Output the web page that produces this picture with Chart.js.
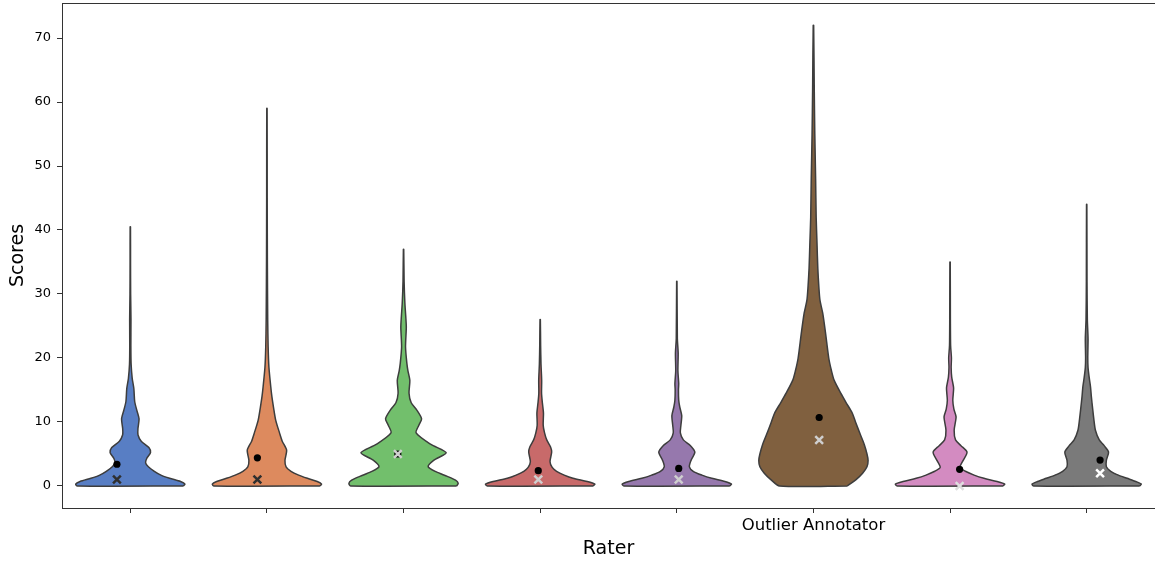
<!DOCTYPE html>
<html lang="en">
<head>
<meta charset="UTF-8">
<title>Scores by rater</title>
<script src="https://cdn.jsdelivr.net/npm/chart.js"></script>
<style>
  html, body { margin: 0; padding: 0; background: #fff; }
  #wrap { width: 1155px; height: 563px; }
</style>
</head>
<body>
<div id="wrap"><canvas id="chartViolin" width="1155" height="563"></canvas></div>
<script>
// rater names on the x axis (only one of them is labelled)
var raterLabels = ['', '', '', '', '', 'Outlier Annotator', '', ''];
var yTicks = [0, 10, 20, 30, 40, 50, 60, 70];

// violin outlines: [score, density relative to the widest point]
var dens0 = [[0,0.97],[0.3,1.0],[0.7,0.92],[1.2,0.72],[1.7,0.56],[2.3,0.44],[3,0.33],[3.6,0.28],[4.3,0.3],[5.2,0.37],[6,0.34],[7,0.2],[8,0.14],[9,0.14],[10.5,0.16],[11.8,0.12],[13.2,0.08],[15.2,0.065],[16.8,0.035],[19,0.015],[22,0.01],[26,0.012],[30,0.006],[35,0.004],[40.5,0.003]];
var dens1 = [[0,0.97],[0.3,1.0],[0.7,0.92],[1.2,0.74],[1.7,0.58],[2.3,0.44],[3,0.35],[4,0.33],[5.6,0.36],[7,0.28],[8.3,0.23],[10.3,0.16],[12.3,0.12],[14,0.09],[15.5,0.07],[18.6,0.036],[21.7,0.022],[26,0.014],[35,0.008],[45,0.005],[59,0.003]];
var dens2 = [[0,0.97],[0.4,1.0],[0.9,0.95],[1.5,0.8],[2.2,0.6],[3,0.45],[4,0.55],[5.2,0.78],[6.5,0.5],[8.3,0.23],[9.5,0.28],[10.5,0.33],[11.9,0.24],[13,0.14],[14.5,0.1],[16.5,0.115],[18,0.08],[19.2,0.06],[21.7,0.036],[24.8,0.05],[26.5,0.04],[28.6,0.024],[32,0.01],[37,0.003]];
var dens3 = [[0,0.97],[0.3,1.0],[0.7,0.86],[1.2,0.6],[1.7,0.44],[2.3,0.3],[2.9,0.22],[3.8,0.18],[5.3,0.21],[6.1,0.19],[7.2,0.12],[8.3,0.08],[9.5,0.055],[11.4,0.06],[13,0.04],[14.5,0.025],[16.5,0.027],[19,0.015],[22,0.008],[26,0.003]];
var dens4 = [[0,0.97],[0.3,1.0],[0.7,0.88],[1.2,0.64],[1.7,0.46],[2.3,0.3],[3,0.23],[4,0.26],[5.3,0.33],[6.3,0.25],[7.2,0.12],[8.3,0.065],[9.5,0.075],[11,0.09],[12.3,0.055],[13.4,0.035],[15,0.03],[16,0.035],[18,0.02],[20.8,0.025],[23,0.01],[32,0.003]];
var dens5 = [[0,0.62],[1,0.78],[2,0.9],[3,0.98],[4,1.0],[5,0.98],[6.5,0.93],[8,0.86],[10,0.77],[11.4,0.71],[13,0.6],[14.5,0.5],[16.5,0.38],[18,0.33],[20,0.28],[24,0.22],[27,0.17],[29,0.12],[31,0.1],[34,0.08],[38,0.065],[42,0.05],[48,0.04],[55,0.025],[62,0.015],[72,0.004]];
var dens6 = [[0,0.97],[0.3,1.0],[0.7,0.86],[1.2,0.62],[1.7,0.44],[2.3,0.28],[2.9,0.18],[4,0.24],[5.3,0.31],[6.3,0.2],[7.2,0.1],[8.7,0.075],[10.8,0.11],[12,0.07],[13.4,0.05],[15.3,0.065],[17,0.03],[18.5,0.02],[20,0.025],[22,0.01],[26,0.006],[35,0.003]];
var dens7 = [[0,0.97],[0.3,1.0],[0.7,0.9],[1.2,0.74],[1.7,0.58],[2.3,0.44],[3,0.36],[4,0.36],[5.3,0.4],[6.3,0.32],[7.2,0.23],[8.7,0.16],[10.5,0.13],[12,0.11],[14,0.085],[15.5,0.07],[17,0.045],[18.5,0.025],[20,0.02],[23,0.025],[26,0.012],[32,0.006],[44,0.003]];
var profiles = [dens0, dens1, dens2, dens3, dens4, dens5, dens6, dens7];

// point estimates per rater
var meanScores = [3.4, 4.4, 5.0, 2.4, 2.75, 10.7, 2.6, 4.05];
var ciLow = [3.2, 4.2, 4.8, 2.2, 2.55, 10.2, 2.4, 3.85];
var ciHigh = [3.6, 4.6, 5.2, 2.6, 2.95, 11.2, 2.8, 4.25];
var medianScores = [1, 1, 5, 1, 1, 7.2, 0, 2];

// styles
var violinColors = ['#587ec4', '#dd8a5e', '#72bf6c', '#c86a6a', '#9678ad', '#80603f', '#d38bc1', '#7a7a7a'];
var crossColors = ['#2f2f2f', '#2f2f2f', '#cfcfcf', '#cfcfcf', '#cfcfcf', '#cfcfcf', '#dedede', '#ffffff'];
var edgeColor = '#3d3d3d';
var halfWidth = 0.4;

function dodge(i) {
  return (i - 3.5) * 0.028;
}

var datasets = [];

// violins as closed outlines
for (var i = 0; i < profiles.length; i++) {
  var prof = profiles[i];
  var pts = [];
  for (var k = 0; k < prof.length; k++) {
    pts.push({ x: i + prof[k][1] * halfWidth, y: prof[k][0] });
  }
  for (var k = prof.length - 1; k >= 0; k--) {
    pts.push({ x: i - prof[k][1] * halfWidth, y: prof[k][0] });
  }
  pts.push(pts[0]);
  datasets.push({
    data: pts,
    showLine: true,
    fill: 'shape',
    backgroundColor: violinColors[i],
    borderColor: edgeColor,
    borderWidth: 1.5,
    tension: 0.25,
    pointRadius: 0,
    order: 5
  });
}

// confidence bars round the mean
for (var i = 0; i < meanScores.length; i++) {
  datasets.push({
    data: [{ x: i + dodge(i), y: ciLow[i] }, { x: i + dodge(i), y: ciHigh[i] }],
    showLine: true,
    borderColor: '#000',
    borderWidth: 2.5,
    pointRadius: 0,
    order: 3
  });
}

// means (dots)
datasets.push({
  data: meanScores.map(function (v, i) { return { x: i + dodge(i), y: v }; }),
  pointStyle: 'circle',
  pointRadius: 3.6,
  backgroundColor: '#000',
  borderColor: '#000',
  borderWidth: 0,
  order: 2
});

// medians (x markers)
datasets.push({
  data: medianScores.map(function (v, i) { return { x: i + dodge(i), y: v }; }),
  pointStyle: 'crossRot',
  pointRadius: 5.5,
  borderColor: crossColors,
  borderWidth: 2.5,
  order: 1
});

// box round the plot area
var frame = {
  id: 'frame',
  afterDatasetsDraw: function (chart) {
    var a = chart.chartArea;
    var ctx = chart.ctx;
    ctx.save();
    ctx.strokeStyle = '#333';
    ctx.lineWidth = 1;
    ctx.strokeRect(a.left + 0.5, a.top + 0.5, a.right - a.left, a.bottom - a.top);
    ctx.restore();
  }
};

var grafico = new Chart(document.getElementById('chartViolin'), {
  type: 'scatter',
  data: { datasets: datasets },
  plugins: [frame],
  options: {
    responsive: false,
    animation: false,
    layout: { autoPadding: false, padding: { top: 3, right: 0, left: 0, bottom: 0 } },
    plugins: {
      legend: { display: false },
      tooltip: { enabled: false }
    },
    scales: {
      x: {
        type: 'linear',
        min: -0.5,
        max: 7.5,
        afterBuildTicks: function (scale) {
          scale.ticks = raterLabels.map(function (l, i) { return { value: i }; });
        },
        afterFit: function (scale) {
          scale.height = 55;
          scale.paddingLeft = 0;
          scale.paddingRight = 0;
        },
        border: { display: false },
        grid: { drawOnChartArea: false, drawTicks: true, tickLength: 5, color: '#333' },
        ticks: {
          autoSkip: false,
          maxRotation: 0,
          padding: 3,
          color: '#000',
          font: { family: 'DejaVu Sans', size: 16.5 },
          callback: function (value) { return raterLabels[value]; }
        },
        title: {
          display: true,
          text: 'Rater',
          color: '#000',
          font: { family: 'DejaVu Sans', size: 19 },
          padding: { top: 0, bottom: 3 }
        }
      },
      y: {
        min: -3.44,
        max: 75.47,
        afterBuildTicks: function (scale) {
          scale.ticks = yTicks.map(function (v) { return { value: v }; });
        },
        afterFit: function (scale) {
          scale.width = 62;
          scale.paddingTop = 0;
          scale.paddingBottom = 0;
        },
        border: { display: false },
        grid: { drawOnChartArea: false, drawTicks: true, tickLength: 5, color: '#333' },
        ticks: {
          padding: 6,
          color: '#000',
          font: { family: 'DejaVu Sans', size: 13 }
        },
        title: {
          display: true,
          text: 'Scores',
          color: '#000',
          font: { family: 'DejaVu Sans', size: 19 },
          padding: { top: 7, bottom: 0 }
        }
      }
    }
  }
});
</script>
</body>
</html>
